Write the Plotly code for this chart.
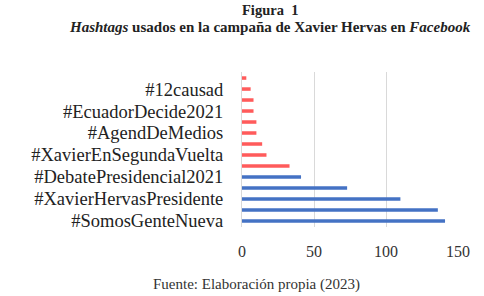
import plotly.graph_objects as go

# Data (top to bottom as shown); only every other category label is displayed
values = [3, 6, 8, 8, 10, 10, 14, 17, 33, 41, 73, 110, 136, 141]
colors_top_to_bottom = ["#FF5B5B"] * 9 + ["#4472C4"] * 5
label_positions = [1, 3, 5, 7, 9, 11, 13]  # indices from the top
labels = ["#12causad", "#EcuadorDecide2021", "#AgendDeMedios",
          "#XavierEnSegundaVuelta", "#DebatePresidencial2021",
          "#XavierHervasPresidente", "#SomosGenteNueva"]
x_ticks = [0, 50, 100, 150]

n = len(values)
ypos = [n - 1 - i for i in range(n)]

fig = go.Figure(go.Bar(
    x=values, y=ypos, orientation="h",
    marker=dict(color=colors_top_to_bottom, line=dict(width=0)),
    width=0.32, hoverinfo="skip",
))

W0, W1 = 242, 458
T0, T1 = 72, 227
def px(x):
    return (x - W0) / (W1 - W0)
def py(y):
    return (T1 - y) / (T1 - T0)

fig.update_layout(
    width=484, height=296,
    margin=dict(l=W0, r=484 - W1, t=T0, b=296 - T1, autoexpand=False),
    paper_bgcolor="white", plot_bgcolor="white",
    showlegend=False,
    font=dict(family="Liberation Serif", color="#222"),
    xaxis=dict(range=[0, 150], tickvals=x_ticks, showgrid=True,
               gridcolor="#d9d9d9", gridwidth=1, zeroline=False,
               showline=False, tickfont=dict(size=16, color="#333"),
               ticklabelstandoff=13, fixedrange=True, automargin=False),
    yaxis=dict(range=[-0.55, n - 0.45],
               tickvals=[n - 1 - i for i in label_positions], ticktext=labels,
               showgrid=False, zeroline=False, showline=True,
               linecolor="#d9d9d9", linewidth=1,
               tickfont=dict(size=18.5, color="#222"),
               ticklabelstandoff=14, automargin=False, fixedrange=True),
    annotations=[
        dict(text="<b>Figura  1</b>", xref="paper", yref="paper",
             x=px(270), y=py(10), xanchor="center", yanchor="middle",
             showarrow=False, font=dict(size=14.5, color="#222")),
        dict(text="<b><i>Hashtags</i> usados en la campaña de Xavier Hervas en <i>Facebook</i></b>",
             xref="paper", yref="paper",
             x=px(270), y=py(27), xanchor="center", yanchor="middle",
             showarrow=False, font=dict(size=15, color="#222")),
        dict(text="Fuente: Elaboración propia (2023)", xref="paper", yref="paper",
             x=px(256), y=py(284), xanchor="center", yanchor="middle",
             showarrow=False, font=dict(size=15, color="#333")),
    ],
)

fig.write_html("out.html", config={"displayModeBar": False},
               post_script="document.body.style.margin='0';document.body.style.overflow='hidden';")
